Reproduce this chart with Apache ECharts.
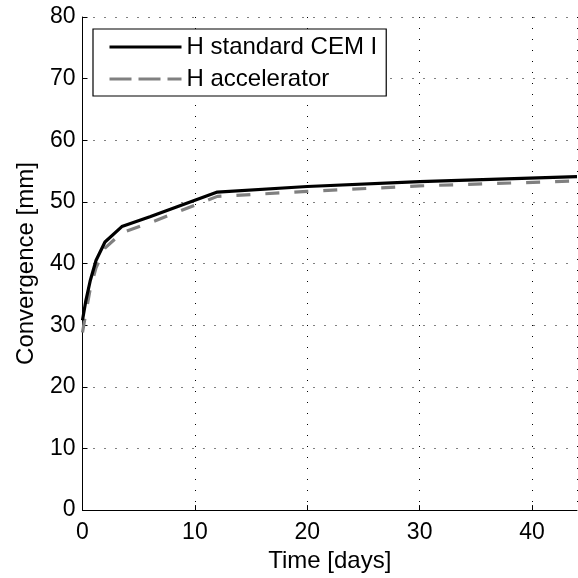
<!DOCTYPE html>
<html lang="en">
<head>
  <meta charset="UTF-8">
  <title>Convergence</title>
</head>
<body style="margin:0">
  <div id="main" style="width:578px;height:578px;"></div>
  <script src="https://cdn.jsdelivr.net/npm/echarts@6/dist/echarts.min.js"></script>
  <script>
    var myChart = echarts.init(document.getElementById('main'))

    // time [days]
    var stdDays = [0, 0.3, 0.7, 1.2, 2, 3.5, 6, 12, 20, 30, 44]
    var stdConv = [30.8, 34, 37.3, 40.5, 43.5, 46, 47.6, 51.6, 52.5, 53.3, 54.1]
    var accDays = [0, 0.3, 0.7, 1.2, 2, 3.5, 6, 12, 20, 30, 44]
    var accConv = [28.8, 32, 36, 39.3, 42.5, 45, 46.6, 50.9, 51.7, 52.6, 53.4]

    function pairs(xs, ys) {
      return xs.map(function (x, i) { return [x, ys[i]] })
    }

    var font = 'Liberation Sans'
    var fs = 23
    var gridLine = { show: true, lineStyle: { color: '#000', type: [1, 10], width: 1 } }

    var options = {
      animation: false,
      backgroundColor: '#fff',
      textStyle: { fontFamily: font },
      grid: { left: 82.5, right: 1, top: 17, bottom: 65.5, containLabel: false },
      legend: {
        orient: 'vertical',
        left: 93,
        top: 29,
        padding: [6, 9, 5, 15],
        itemGap: 8,
        itemWidth: 72,
        itemHeight: 24,
        borderColor: '#000',
        borderWidth: 1.2,
        borderRadius: 0,
        backgroundColor: '#fff',
        itemStyle: { opacity: 0 },
        textStyle: { fontSize: 24, color: '#000', fontFamily: font },
        data: [
          { name: 'H standard CEM I', lineStyle: { color: '#000', width: 3, type: 'solid' } },
          { name: 'H accelerator', lineStyle: { color: '#808080', width: 3, type: [22, 7] } }
        ]
      },
      xAxis: {
        type: 'value',
        min: 0,
        max: 44,
        interval: 10,
        name: 'Time [days]',
        nameLocation: 'middle',
        nameGap: 38,
        nameTextStyle: { fontSize: 24, color: '#000', fontFamily: font },
        axisLine: { show: true, lineStyle: { color: '#000', width: 1 } },
        axisTick: { show: true, inside: true, length: 5, lineStyle: { color: '#000' } },
        axisLabel: { fontSize: fs, color: '#000', margin: 11, showMaxLabel: false },
        splitLine: gridLine
      },
      yAxis: {
        type: 'value',
        min: 0,
        max: 80,
        interval: 10,
        name: 'Convergence [mm]',
        nameLocation: 'middle',
        nameGap: 44,
        nameTextStyle: { fontSize: 24, color: '#000', fontFamily: font },
        axisLine: { show: true, lineStyle: { color: '#000', width: 1 } },
        axisTick: { show: true, inside: true, length: 5, lineStyle: { color: '#000' } },
        axisLabel: { fontSize: fs, color: '#000', margin: 7 },
        splitLine: gridLine
      },
      series: [
        {
          name: 'H standard CEM I',
          type: 'line',
          data: pairs(stdDays, stdConv),
          showSymbol: false,
          symbol: 'none',
          z: 3,
          lineStyle: { color: '#000', width: 3.2 },
          itemStyle: { color: '#000' }
        },
        {
          name: 'H accelerator',
          type: 'line',
          data: pairs(accDays, accConv),
          showSymbol: false,
          symbol: 'none',
          z: 2,
          lineStyle: { color: '#808080', width: 3.2, type: [14, 15] },
          itemStyle: { color: '#808080' }
        }
      ]
    }
    myChart.setOption(options)
  </script>
</body>
</html>
